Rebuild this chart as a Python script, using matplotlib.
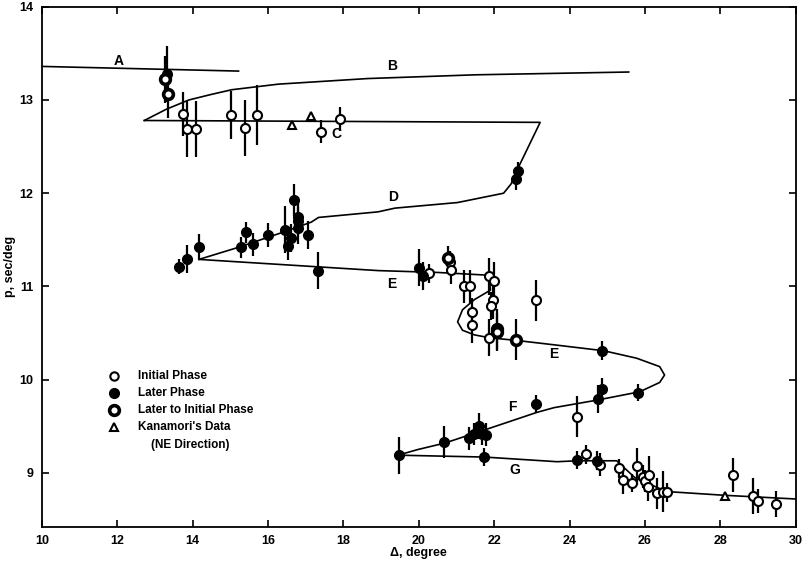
import matplotlib
matplotlib.use("Agg")
import matplotlib.pyplot as plt

# travel-time branches (delta in degree, p in sec/deg)
curve_A_x = [10.0, 15.22]
curve_A_y = [13.36, 13.31]
curve_B_x = [12.72, 13.3, 13.9, 14.5, 15.04, 16.28, 18.65, 21.5, 25.57]
curve_B_y = [12.78, 12.90, 13.00, 13.06, 13.11, 13.17, 13.23, 13.27, 13.30]
curve_CD_x = [12.72, 23.22, 22.61, 22.45, 22.25, 21.03, 19.37, 18.92, 17.34, 17.15, 16.46, 15.22, 14.17]
curve_CD_y = [12.78, 12.76, 12.25, 12.10, 12.00, 11.90, 11.84, 11.80, 11.74, 11.69, 11.59, 11.42, 11.29]
curve_EF_x = [14.17, 18.92, 20.50, 21.87, 21.90, 21.48, 21.16, 21.03, 21.16, 21.48, 21.87, 22.61,
              23.67, 24.91, 25.78, 26.39, 26.52, 26.39, 25.86, 24.72, 23.59, 23.14, 21.74, 20.69, 19.97, 19.45]
curve_EF_y = [11.29, 11.17, 11.15, 11.12, 10.96, 10.86, 10.75, 10.62, 10.53, 10.48, 10.45, 10.42,
              10.37, 10.31, 10.23, 10.14, 10.05, 9.97, 9.87, 9.78, 9.70, 9.65, 9.46, 9.32, 9.25, 9.19]
curve_G_x = [19.45, 21.74, 23.67, 24.20, 25.25, 25.73, 26.57, 28.10, 30.0]
curve_G_y = [9.19, 9.17, 9.12, 9.13, 9.13, 8.95, 8.80, 8.76, 8.72]

branch_labels = ["A", "B", "C", "D", "E", "E", "F", "G"]
branch_label_x = [12.03, 19.29, 17.81, 19.31, 19.29, 23.59, 22.48, 22.56]
branch_label_y = [13.42, 13.36, 12.63, 11.96, 11.03, 10.27, 9.71, 9.03]

# initial phase (open circles)
open_x = [13.75, 13.84, 14.08, 15.03, 15.40, 15.71, 17.42, 17.91,
          20.82, 20.85, 20.28, 21.20, 21.35, 21.41, 21.41, 21.85, 22.0, 21.98, 21.91, 21.85, 23.12,
          24.21,
          24.44, 24.81, 25.30, 25.43, 25.65, 25.80, 25.96, 26.0, 26.11, 26.09, 26.31, 26.48, 26.59,
          28.33, 28.86, 28.99, 29.47]
open_y = [12.85, 12.69, 12.69, 12.84, 12.70, 12.84, 12.66, 12.80,
          11.26, 11.18, 11.14, 11.0, 11.0, 10.73, 10.59, 11.11, 11.06, 10.85, 10.79, 10.45, 10.85,
          9.60,
          9.20, 9.09, 9.05, 8.92, 8.89, 9.07, 8.96, 8.91, 8.98, 8.85, 8.78, 8.80, 8.79,
          8.98, 8.75, 8.70, 8.67]
open_err = [0.24, 0.3, 0.3, 0.26, 0.3, 0.32, 0.12, 0.13,
            0.12, 0.15, 0.1, 0.18, 0.18, 0.15, 0.2, 0.2, 0.2, 0.2, 0.15, 0.2, 0.22,
            0.22,
            0.1, 0.12, 0.1, 0.15, 0.1, 0.2, 0.12, 0.12, 0.2, 0.15, 0.17, 0.22, 0.1,
            0.18, 0.19, 0.13, 0.14]

# later phase (filled circles)
filled_x = [13.33, 22.63, 22.57,
            13.64, 13.84, 14.17, 15.29, 15.43, 15.60, 16.0, 16.44, 16.54, 16.61, 16.70, 16.81, 16.79, 16.79, 17.07, 17.33,
            20.0, 20.1, 24.87,
            19.47, 20.66, 21.34, 21.47, 21.60, 21.69, 21.78, 21.73, 23.12, 24.75, 24.86, 25.82,
            24.20, 24.72]
filled_y = [13.28, 12.24, 12.15,
            11.21, 11.29, 11.42, 11.42, 11.58, 11.45, 11.55, 11.61, 11.43, 11.52, 11.93, 11.75, 11.70, 11.63, 11.55, 11.17,
            11.20, 11.11, 10.31,
            9.19, 9.33, 9.37, 9.42, 9.50, 9.42, 9.41, 9.17, 9.74, 9.79, 9.90, 9.86,
            9.14, 9.13]
filled_err = [0.3, 0.1, 0.12,
              0.08, 0.15, 0.14, 0.11, 0.11, 0.12, 0.13, 0.25, 0.15, 0.15, 0.17, 0.15, 0.15, 0.17, 0.15, 0.2,
              0.2, 0.15, 0.1,
              0.2, 0.17, 0.12, 0.12, 0.14, 0.12, 0.12, 0.1, 0.1, 0.15, 0.12, 0.09,
              0.1, 0.1]

# later to initial phase
half_x = [13.28, 13.35, 20.78, 22.07, 22.08, 22.57]
half_y = [13.22, 13.06, 11.31, 10.54, 10.51, 10.43]
half_err = [0.25, 0.25, 0.12, 0.22, 0.2, 0.22]

# Kanamori's data
kana_x = [16.63, 17.13, 28.13]
kana_y = [12.73, 12.83, 8.75]

legend_labels = ["Initial Phase", "Later Phase", "Later to Initial Phase", "Kanamori's Data", "(NE Direction)"]

plt.rcParams['font.family'] = ['Liberation Sans', 'DejaVu Sans']
plt.rcParams['font.weight'] = 'bold'

fig = plt.figure(figsize=(8.03, 5.63), dpi=100)
ax = fig.add_axes([0.052, 0.064, 0.939, 0.924])

lw = 1.2
for cx, cy in [(curve_A_x, curve_A_y), (curve_B_x, curve_B_y), (curve_CD_x, curve_CD_y),
               (curve_EF_x, curve_EF_y), (curve_G_x, curve_G_y)]:
    ax.plot(cx, cy, color='black', lw=lw, zorder=2)

for lab, lx, ly in zip(branch_labels, branch_label_x, branch_label_y):
    ax.text(lx, ly, lab, fontsize=10, fontweight='bold', ha='center', va='center')

ax.errorbar(open_x, open_y, yerr=open_err, fmt='none', ecolor='black', elinewidth=1.6, zorder=3)
ax.errorbar(filled_x, filled_y, yerr=filled_err, fmt='none', ecolor='black', elinewidth=1.6, zorder=3)
ax.errorbar(half_x, half_y, yerr=half_err, fmt='none', ecolor='black', elinewidth=1.6, zorder=3)

ax.plot(open_x, open_y, 'o', ms=6.5, mfc='white', mec='black', mew=1.5, zorder=4)
ax.plot(filled_x, filled_y, 'o', ms=7, mfc='black', mec='black', zorder=4)
ax.plot(half_x, half_y, 'o', ms=7, mfc='white', mec='black', mew=2.6, zorder=4)
ax.plot(kana_x, kana_y, '^', ms=6, mfc='white', mec='black', mew=1.5, zorder=4)

# legend drawn by hand like the original
leg_x_mark = 11.92
leg_x_text = 12.55
leg_y = [10.04, 9.86, 9.67, 9.49, 9.30]
ax.plot(leg_x_mark, leg_y[0], 'o', ms=6, mfc='white', mec='black', mew=1.5)
ax.plot(leg_x_mark, leg_y[1], 'o', ms=7, mfc='black', mec='black')
ax.plot(leg_x_mark, leg_y[2], 'o', ms=7, mfc='white', mec='black', mew=2.6)
ax.plot(leg_x_mark, leg_y[3], '^', ms=6, mfc='white', mec='black', mew=1.5)
for i, t in enumerate(legend_labels):
    tx = leg_x_text if i < 4 else leg_x_text + 0.35
    ax.text(tx, leg_y[i], t, fontsize=8.5, fontweight='bold', va='center', ha='left')

ax.set_xlim(10, 30)
ax.set_ylim(8.42, 14)
ax.set_xticks(range(10, 31, 2))
ax.set_yticks(range(9, 15))
ax.tick_params(direction='in', top=True, right=True, length=5, width=1.2, labelsize=9, pad=6)
for lbl in ax.get_xticklabels() + ax.get_yticklabels():
    lbl.set_fontweight('bold')
for s in ax.spines.values():
    s.set_linewidth(1.3)
ax.set_xlabel("Δ, degree", fontsize=9, fontweight='bold', labelpad=0)
ax.set_ylabel("p, sec/deg", fontsize=9, fontweight='bold')
ax.yaxis.set_label_coords(-0.034, 0.5)

fig.savefig("out.png", dpi=100)
